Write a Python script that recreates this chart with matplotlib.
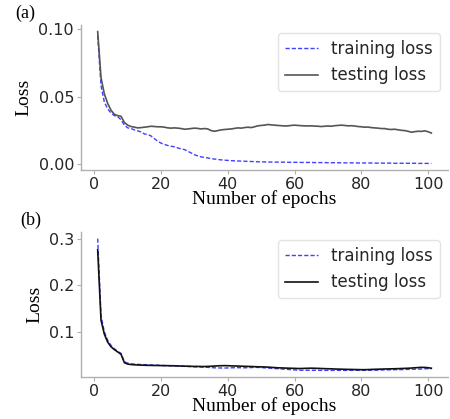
import numpy as np
import matplotlib.pyplot as plt

epochs = np.arange(1, 102)

# (a) training / testing loss
train_a = [
    0.095, 0.058, 0.046, 0.041, 0.038, 0.036, 0.0352, 0.033, 0.029, 0.027,
    0.0265, 0.0255, 0.0248, 0.024, 0.0225, 0.0222, 0.021, 0.019, 0.0172, 0.0157,
    0.0148, 0.014, 0.0135, 0.013, 0.0122, 0.0115, 0.011, 0.0098, 0.0085, 0.0072,
    0.0063, 0.0056, 0.0052, 0.0048, 0.0044, 0.004, 0.0037, 0.0034, 0.0032, 0.003,
    0.0028, 0.0027, 0.0026, 0.0025, 0.0024, 0.0023, 0.0022, 0.0021, 0.002, 0.0019,
    0.0019, 0.0018, 0.0018, 0.0018, 0.0017, 0.0017, 0.0017, 0.0016, 0.0016, 0.0016,
    0.0016, 0.0015, 0.0015, 0.0015, 0.0015, 0.0014, 0.0014, 0.0014, 0.0014, 0.0013,
    0.0013, 0.0013, 0.0013, 0.0012, 0.0012, 0.0012, 0.0012, 0.0012, 0.0011, 0.0011,
    0.0011, 0.0011, 0.0011, 0.001, 0.001, 0.001, 0.001, 0.001, 0.001, 0.0009,
    0.0009, 0.0009, 0.0009, 0.0009, 0.0009, 0.0009, 0.0008, 0.0008, 0.0008, 0.0008,
    0.0008,
]
test_a = [
    0.098, 0.064, 0.052, 0.045, 0.040, 0.037, 0.036, 0.0355, 0.031, 0.029,
    0.028, 0.0275, 0.027, 0.0272, 0.0275, 0.0278, 0.0282, 0.028, 0.0278, 0.0278,
    0.0275, 0.027, 0.0268, 0.027, 0.0268, 0.0265, 0.026, 0.0262, 0.0265, 0.0268,
    0.0266, 0.0262, 0.0265, 0.0262, 0.025, 0.0245, 0.025, 0.0255, 0.0258, 0.026,
    0.0262, 0.0266, 0.027, 0.0268, 0.0272, 0.0275, 0.0272, 0.0278, 0.0285, 0.0288,
    0.029, 0.0295, 0.0292, 0.029, 0.0288, 0.0286, 0.0284, 0.0285, 0.0288, 0.029,
    0.0288, 0.0286, 0.0285, 0.0284, 0.0285, 0.0283, 0.0282, 0.028, 0.0282, 0.0284,
    0.0282, 0.0286, 0.0288, 0.029, 0.0288, 0.0285, 0.0286, 0.0284, 0.028, 0.0278,
    0.0275, 0.0276, 0.0272, 0.027, 0.0268, 0.0265, 0.0265, 0.026, 0.0258, 0.026,
    0.0256, 0.0252, 0.025, 0.0245, 0.0238, 0.0242, 0.0245, 0.0244, 0.0248, 0.0242,
    0.0232,
]

# (b) training / testing loss
train_b = [
    0.300, 0.135, 0.100, 0.082, 0.071, 0.064, 0.058, 0.054, 0.036, 0.033,
    0.0315, 0.031, 0.0305, 0.030, 0.0298, 0.0295, 0.029, 0.0288, 0.0285, 0.028,
    0.0278, 0.0275, 0.0272, 0.027, 0.0268, 0.0265, 0.026, 0.0258, 0.0255, 0.025,
    0.0248, 0.0245, 0.0242, 0.024, 0.0235, 0.023, 0.0228, 0.0226, 0.0225, 0.0227,
    0.023, 0.0232, 0.0233, 0.0232, 0.023, 0.0232, 0.0235, 0.024, 0.0238, 0.0235,
    0.023, 0.0225, 0.022, 0.0215, 0.021, 0.0205, 0.02, 0.0195, 0.019, 0.0185,
    0.018, 0.0178, 0.0178, 0.0177, 0.0177, 0.0177, 0.0176, 0.0175, 0.0175, 0.0175,
    0.0174, 0.0175, 0.0176, 0.0175, 0.0175, 0.0176, 0.0177, 0.0177, 0.0176, 0.0175,
    0.0176, 0.0177, 0.0178, 0.0178, 0.018, 0.0182, 0.0185, 0.0186, 0.0188, 0.019,
    0.019, 0.0192, 0.0194, 0.0196, 0.0198, 0.02, 0.0202, 0.0205, 0.021, 0.021,
    0.0205,
]
test_b = [
    0.276, 0.125, 0.095, 0.078, 0.068, 0.062, 0.057, 0.052, 0.034, 0.031,
    0.030, 0.0295, 0.029, 0.0288, 0.0285, 0.0283, 0.0282, 0.028, 0.028, 0.0278,
    0.0277, 0.0276, 0.0275, 0.0273, 0.027, 0.0268, 0.0266, 0.0265, 0.0262, 0.026,
    0.026, 0.0258, 0.0258, 0.026, 0.0263, 0.0268, 0.0272, 0.0275, 0.0277, 0.0275,
    0.0272, 0.027, 0.0268, 0.0265, 0.0262, 0.026, 0.0258, 0.0255, 0.0252, 0.025,
    0.0248, 0.0245, 0.024, 0.0235, 0.023, 0.0228, 0.0225, 0.0222, 0.022, 0.0218,
    0.0215, 0.0215, 0.0218, 0.022, 0.0222, 0.022, 0.0218, 0.0215, 0.0212, 0.021,
    0.0208, 0.0205, 0.0202, 0.02, 0.0198, 0.0196, 0.0195, 0.0193, 0.0192, 0.019,
    0.019, 0.0192, 0.0195, 0.0198, 0.02, 0.0202, 0.0205, 0.0206, 0.0208, 0.021,
    0.0212, 0.0215, 0.0218, 0.022, 0.0225, 0.023, 0.0235, 0.024, 0.0238, 0.0232,
    0.0222,
]

panel_labels = ["(a)", "(b)"]

spine_color = "#b0b0b0"
text_color = "#262626"
serif = ["Liberation Serif", "DejaVu Serif"]

fig = plt.figure(figsize=(4.5, 4.19), dpi=100)
ax_a = fig.add_axes([0.18, 0.5943, 0.8156, 0.346])
ax_b = fig.add_axes([0.18, 0.1002, 0.8156, 0.3461])

panels = [
    (ax_a, train_a, test_a, "#555555"),
    (ax_b, train_b, test_b, "#111111"),
]

for axis, train, test, test_color in panels:
    axis.plot(epochs, train, linestyle="--", dashes=(3, 1.5), color="#4040ff",
              linewidth=1.0, label="training loss")
    axis.plot(epochs, test, linestyle="-", color=test_color,
              linewidth=1.2, label="testing loss")

    axis.spines["top"].set_visible(False)
    axis.spines["right"].set_visible(False)
    for side in ("left", "bottom"):
        axis.spines[side].set_color(spine_color)
        axis.spines[side].set_linewidth(1.0)

    axis.tick_params(axis="both", colors=spine_color, labelcolor=text_color,
                     labelsize=11.5, length=3, width=0.8, pad=2)
    axis.set_xticks([0, 20, 40, 60, 80, 100])

    axis.set_xlabel("Number of epochs", fontsize=14, family=serif,
                    color="black", labelpad=-1)
    axis.set_ylabel("Loss", fontsize=14, family=serif, color="black")

    legend = axis.legend(loc="upper right", fontsize=12, frameon=True)
    legend.get_frame().set_edgecolor("#dddddd")
    for text in legend.get_texts():
        text.set_color(text_color)

ax_a.set_yticks([0.0, 0.05, 0.10])
ax_a.set_yticklabels(["0.00", "0.05", "0.10"])
ax_b.set_yticks([0.1, 0.2, 0.3])

fig.text(0.033, 0.967, panel_labels[0], fontsize=13, family=serif,
         va="center", ha="left")
fig.text(0.045, 0.475, panel_labels[1], fontsize=13, family=serif,
         va="center", ha="left")

fig.savefig("out.png", dpi=100)
plt.close(fig)
